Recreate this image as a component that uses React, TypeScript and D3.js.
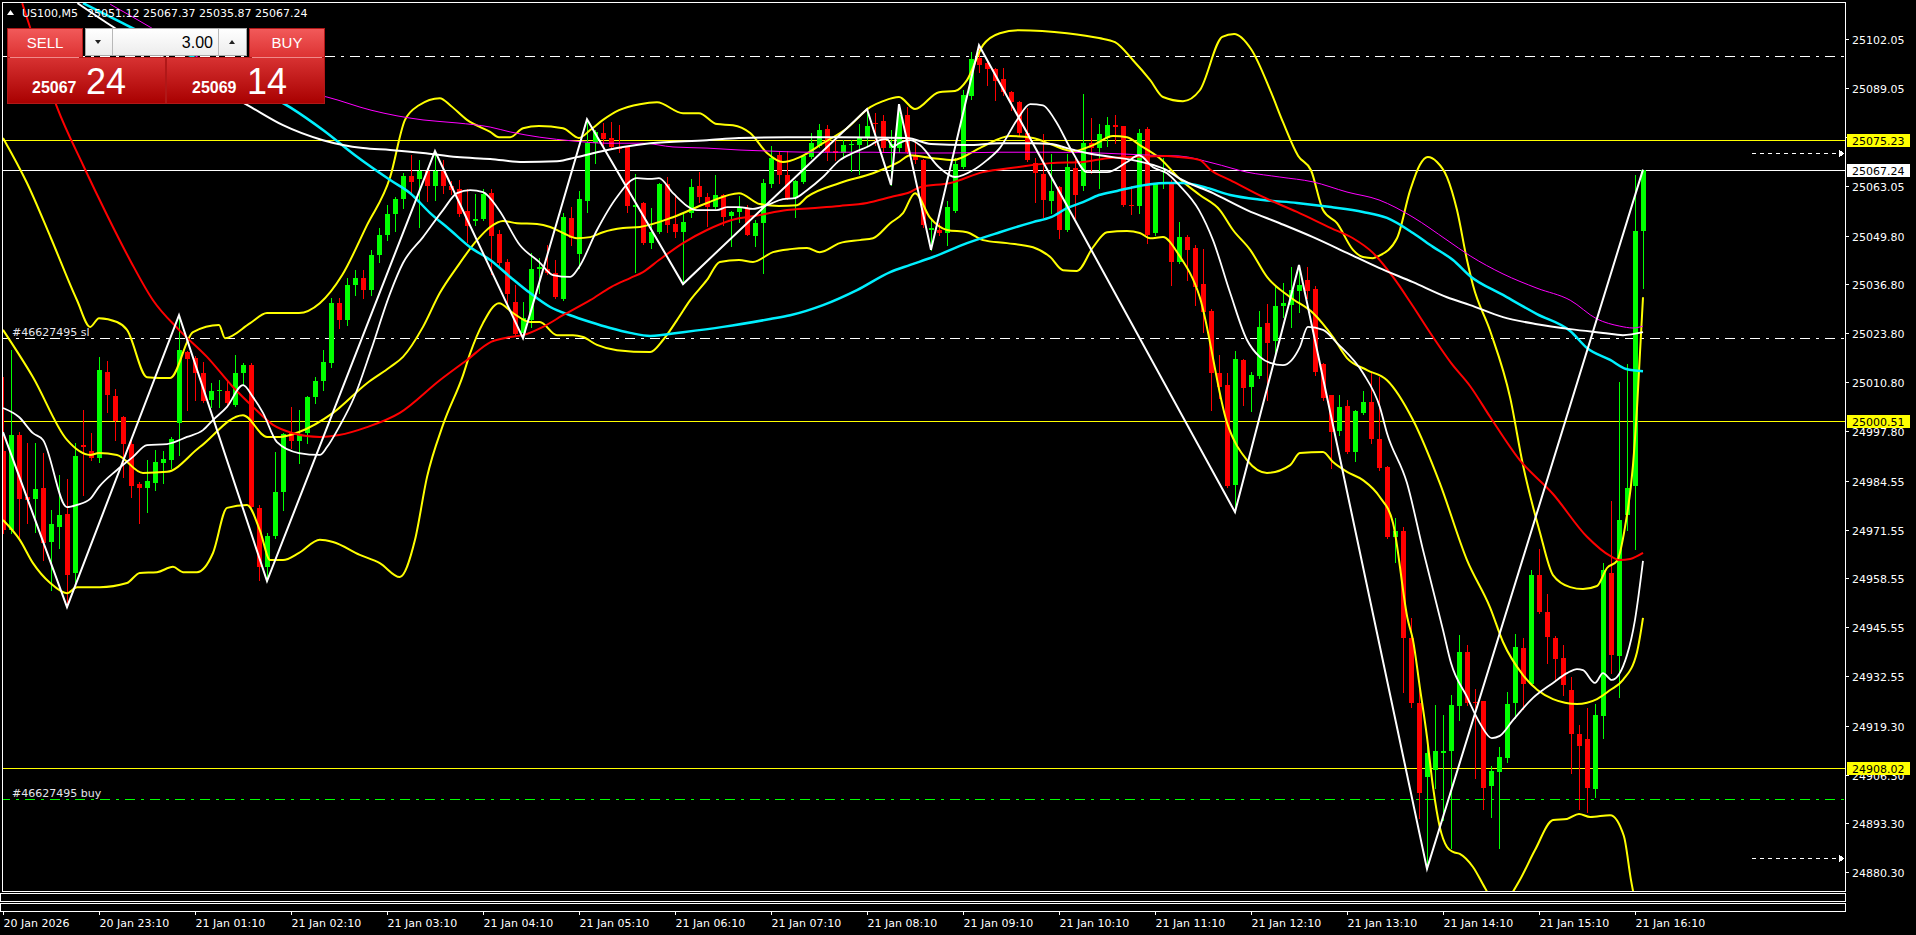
import React from 'react';
import * as d3 from 'd3';

// US100 M5, bars from 20 Jan 22:10 to 21 Jan 16:15, [open, high, low, close]
const ohlc: number[][] = [
  [24992.4, 25012.1, 24970.6, 24971.4], [24971.4, 25019.3, 24970.6, 24996.7], [24996.7, 24997.5, 24968.8, 24979.7],
  [24980.2, 24994.6, 24973.3, 24979.4], [24979.7, 24994.6, 24970.9, 24982.3], [24982.6, 24991.9, 24963.4, 24968.0],
  [24968.2, 24976.7, 24955.4, 24973.0], [24972.2, 24986.1, 24966.6, 24975.4], [24975.7, 24985.0, 24950.9, 24959.4],
  [24960.0, 24994.6, 24956.8, 24991.1], [24994.0, 25003.4, 24980.7, 24993.5], [24992.4, 24997.2, 24990.0, 24990.6],
  [24990.6, 25017.5, 24989.5, 25014.0], [25013.5, 25016.4, 25002.8, 25007.3], [25007.1, 25008.9, 24995.4, 25000.4],
  [25001.5, 25001.8, 24985.5, 24994.3], [24994.3, 24995.4, 24980.2, 24983.1], [24983.7, 24984.2, 24973.3, 24982.6],
  [24982.6, 24990.0, 24976.2, 24984.5], [24983.9, 24992.7, 24982.1, 24989.5], [24989.2, 24992.4, 24983.9, 24990.3],
  [24990.0, 24996.2, 24987.9, 24995.6], [25000.0, 25028.6, 24991.4, 25019.3], [25018.8, 25019.0, 25003.4, 25016.9],
  [25017.2, 25017.7, 25006.0, 25013.2], [25013.2, 25016.1, 25005.5, 25005.7], [25006.0, 25010.5, 25004.2, 25008.4],
  [25008.4, 25011.3, 25004.2, 25008.6], [25008.4, 25011.3, 25004.7, 25005.2], [25004.7, 25018.0, 25004.4, 25013.2],
  [25013.2, 25015.9, 25010.0, 25015.3], [25015.3, 25015.9, 24977.3, 24977.5], [24977.3, 24978.1, 24958.1, 24961.6],
  [24961.6, 24970.6, 24957.8, 24969.8], [24969.8, 24992.2, 24969.3, 24981.5], [24981.5, 24997.2, 24976.7, 24997.0],
  [24997.2, 25004.2, 24993.2, 24995.1], [24995.1, 25003.4, 24989.2, 24996.7], [24997.2, 25007.0, 24994.6, 25006.8],
  [25006.8, 25012.1, 25005.2, 25011.1], [25011.1, 25019.3, 25008.7, 25016.1], [25015.9, 25033.2, 25014.8, 25031.8],
  [25031.8, 25033.2, 25025.2, 25027.3], [25027.3, 25038.5, 25026.0, 25036.6], [25036.6, 25040.6, 25034.0, 25038.5],
  [25038.5, 25040.6, 25033.2, 25035.3], [25035.3, 25046.0, 25034.0, 25044.6], [25044.6, 25051.8, 25042.8, 25049.9],
  [25049.9, 25057.9, 25048.6, 25055.5], [25055.5, 25060.1, 25051.0, 25059.5], [25059.5, 25066.4, 25057.1, 25065.6],
  [25065.6, 25071.2, 25061.1, 25064.1], [25064.9, 25069.9, 25052.1, 25067.0], [25067.0, 25067.5, 25059.0, 25063.0],
  [25063.0, 25072.3, 25059.3, 25067.0], [25067.0, 25069.9, 25061.1, 25063.0], [25063.0, 25064.3, 25060.9, 25061.9],
  [25062.2, 25064.6, 25055.0, 25055.5], [25056.3, 25062.2, 25048.1, 25052.3], [25053.7, 25060.9, 25052.6, 25054.2],
  [25054.2, 25062.2, 25053.9, 25060.9], [25061.1, 25062.2, 25039.6, 25049.7], [25050.2, 25051.3, 25042.0, 25042.5],
  [25042.8, 25043.6, 25031.8, 25034.2], [25032.1, 25036.6, 25023.3, 25023.5], [25023.9, 25032.1, 25022.5, 25027.8],
  [25027.3, 25045.2, 25025.5, 25040.9], [25040.9, 25043.8, 25034.5, 25041.4], [25040.9, 25047.3, 25039.5, 25039.9],
  [25039.8, 25043.3, 25033.2, 25033.4], [25032.9, 25055.8, 25032.6, 25054.7], [25054.5, 25057.4, 25047.3, 25049.1],
  [25045.0, 25061.7, 25041.2, 25059.5], [25059.0, 25080.8, 25056.1, 25074.4], [25074.4, 25077.9, 25069.1, 25077.4],
  [25077.1, 25079.8, 25073.4, 25075.5], [25075.8, 25080.0, 25072.8, 25073.4], [25073.4, 25079.2, 25072.0, 25072.8],
  [25073.4, 25073.6, 25056.1, 25057.7], [25057.4, 25066.2, 25040.1, 25057.9], [25058.5, 25058.7, 25047.6, 25047.8],
  [25047.8, 25057.1, 25046.5, 25050.7], [25050.7, 25063.8, 25050.5, 25063.6], [25063.5, 25065.4, 25050.7, 25052.6],
  [25052.9, 25060.6, 25049.4, 25050.7], [25050.7, 25055.8, 25036.9, 25053.4], [25055.8, 25064.9, 25054.7, 25062.7],
  [25063.0, 25066.7, 25058.7, 25060.1], [25060.1, 25061.1, 25052.3, 25057.4], [25057.4, 25065.9, 25057.1, 25060.6],
  [25060.6, 25060.9, 25052.6, 25054.7], [25055.0, 25056.3, 25047.0, 25056.1], [25056.1, 25060.3, 25053.4, 25057.1],
  [25057.1, 25057.9, 25049.9, 25050.0], [25049.7, 25053.9, 25047.0, 25053.1], [25053.1, 25064.9, 25039.8, 25063.8],
  [25063.5, 25073.6, 25062.7, 25070.4], [25071.2, 25072.3, 25063.8, 25065.9], [25065.9, 25072.3, 25059.6, 25059.8],
  [25059.8, 25064.5, 25054.7, 25064.3], [25064.1, 25071.2, 25063.8, 25071.0], [25070.7, 25077.1, 25070.4, 25074.4],
  [25073.6, 25079.5, 25073.4, 25077.9], [25078.2, 25079.2, 25069.9, 25072.0], [25072.3, 25075.2, 25069.9, 25071.8],
  [25071.8, 25075.2, 25070.4, 25073.9], [25073.8, 25075.2, 25067.0, 25074.1], [25073.9, 25079.5, 25066.2, 25075.8],
  [25076.0, 25083.5, 25073.6, 25079.0], [25079.8, 25082.4, 25073.9, 25079.5], [25080.3, 25081.9, 25072.0, 25073.1],
  [25073.1, 25077.9, 25063.3, 25074.2], [25073.1, 25084.8, 25072.0, 25081.9], [25081.9, 25084.0, 25071.8, 25072.0],
  [25071.2, 25074.4, 25069.1, 25069.9], [25069.9, 25070.1, 25052.1, 25052.6], [25051.3, 25053.9, 25046.0, 25051.8],
  [25051.3, 25053.1, 25049.9, 25050.5], [25050.5, 25059.0, 25047.3, 25057.4], [25056.3, 25070.4, 25056.1, 25068.8],
  [25068.0, 25088.5, 25067.8, 25087.2], [25086.9, 25098.7, 25086.1, 25096.8], [25097.1, 25100.5, 25093.3, 25095.2],
  [25095.7, 25096.0, 25089.9, 25094.1], [25094.1, 25094.3, 25085.9, 25090.9], [25091.5, 25094.4, 25087.2, 25088.0],
  [25088.0, 25088.2, 25083.2, 25085.4], [25085.4, 25085.6, 25076.6, 25077.1], [25077.1, 25083.8, 25069.7, 25069.9],
  [25069.1, 25070.4, 25058.7, 25066.4], [25066.2, 25076.8, 25054.7, 25059.3], [25059.0, 25071.5, 25055.8, 25061.7],
  [25062.7, 25063.0, 25049.1, 25051.3], [25051.3, 25071.5, 25051.0, 25068.0], [25067.8, 25070.4, 25054.5, 25060.6],
  [25063.0, 25087.5, 25061.9, 25074.4], [25074.4, 25081.1, 25066.4, 25073.1], [25073.1, 25079.5, 25062.5, 25076.8],
  [25075.8, 25081.4, 25073.6, 25079.2], [25079.2, 25081.9, 25074.4, 25078.7], [25078.9, 25079.1, 25057.7, 25057.9],
  [25058.0, 25063.0, 25055.5, 25057.7], [25057.7, 25078.2, 25055.8, 25077.1], [25078.2, 25078.7, 25047.8, 25049.9],
  [25050.5, 25063.8, 25049.9, 25063.8], [25063.8, 25070.4, 25062.5, 25064.1], [25064.1, 25064.6, 25036.6, 25042.8],
  [25042.8, 25053.4, 25042.5, 25049.4], [25049.4, 25049.9, 25038.0, 25045.9], [25046.5, 25047.3, 25031.3, 25036.1],
  [25036.9, 25046.2, 25024.1, 25029.4], [25029.7, 25030.2, 25003.4, 25013.2], [25013.2, 25018.0, 25006.6, 25009.5],
  [25010.0, 25013.2, 24982.9, 24983.1], [24983.4, 25019.1, 24976.2, 25016.9], [25016.7, 25016.9, 25004.7, 25009.2],
  [25009.5, 25013.5, 25003.1, 25012.7], [25012.4, 25029.7, 25011.9, 25025.5], [25026.5, 25031.6, 25006.0, 25021.2],
  [25021.7, 25036.6, 25018.5, 25031.0], [25031.0, 25037.2, 25028.1, 25031.8], [25031.3, 25041.4, 25025.5, 25035.3],
  [25035.0, 25042.0, 25029.4, 25036.6], [25038.0, 25041.4, 25033.2, 25035.0], [25035.6, 25036.4, 25012.7, 25013.5],
  [25015.6, 25015.9, 25006.0, 25006.6], [25007.3, 25007.4, 24987.9, 24997.5], [24997.8, 25007.3, 24996.7, 25004.2],
  [25004.4, 25006.0, 24991.8, 24992.2], [24992.2, 25003.4, 24989.8, 25003.1], [25002.6, 25008.4, 25002.3, 25005.5],
  [25005.5, 25013.2, 24994.6, 24995.6], [24995.6, 25012.1, 24987.5, 24987.9], [24988.2, 24988.4, 24969.3, 24969.5],
  [24969.5, 24974.6, 24962.9, 24971.1], [24971.1, 24972.2, 24928.3, 24942.7], [24942.7, 24948.0, 24924.3, 24925.4],
  [24925.4, 24930.2, 24894.8, 24901.4], [24905.6, 24914.2, 24881.2, 24912.1], [24907.5, 24924.8, 24902.7, 24912.6],
  [24912.1, 24922.2, 24894.2, 24912.6], [24912.6, 24927.5, 24886.8, 24924.8], [24924.6, 24943.5, 24920.8, 24938.9],
  [24938.9, 24940.8, 24924.8, 24925.4], [24925.6, 24929.1, 24905.4, 24925.4], [24925.9, 24926.0, 24897.2, 24902.7],
  [24903.3, 24908.6, 24895.0, 24907.3], [24907.0, 24913.6, 24886.8, 24911.0], [24910.7, 24928.3, 24909.7, 24925.1],
  [24925.4, 24943.7, 24921.4, 24940.3], [24940.0, 24942.7, 24923.8, 24930.4], [24930.4, 24960.8, 24930.2, 24959.4],
  [24959.4, 24966.4, 24949.3, 24949.6], [24949.6, 24954.4, 24936.0, 24942.9], [24942.7, 24943.2, 24931.5, 24937.1],
  [24937.3, 24940.8, 24927.5, 24930.2], [24928.8, 24932.3, 24906.7, 24917.1], [24917.1, 24919.5, 24897.2, 24913.9],
  [24915.8, 24924.0, 24896.3, 24902.7], [24902.5, 24925.1, 24900.3, 24922.2], [24921.9, 24962.6, 24916.0, 24960.8],
  [24960.0, 24979.1, 24933.4, 24938.1], [24937.9, 25010.8, 24927.0, 24974.1], [24975.4, 25015.6, 24971.4, 24982.6],
  [24983.1, 25065.9, 24966.4, 25051.1], [25051.12, 25067.37, 25035.87, 25067.24],
];

const timeLabels = [
  '20 Jan 2026', '20 Jan 23:10', '21 Jan 01:10', '21 Jan 02:10', '21 Jan 03:10', '21 Jan 04:10',
  '21 Jan 05:10', '21 Jan 06:10', '21 Jan 07:10', '21 Jan 08:10', '21 Jan 09:10', '21 Jan 10:10',
  '21 Jan 11:10', '21 Jan 12:10', '21 Jan 13:10', '21 Jan 14:10', '21 Jan 15:10', '21 Jan 16:10',
];
const priceTicks = [
  '25102.05', '25089.05', '25076.05', '25063.05', '25049.80', '25036.80', '25023.80', '25010.80', '24997.80',
  '24984.55', '24971.55', '24958.55', '24945.55', '24932.55', '24919.30', '24906.30', '24893.30', '24880.30',
];

// indicator lines, [bar index, price]
const redMA: [number, number][] = [
  [2.4, 25111.7], [4.5, 25097.9], [6.75, 25084.0], [10, 25068.6], [13, 25055.3], [16, 25042.8], [18.75, 25032.6],
  [22, 25024.7], [25.5, 25017.5], [28.75, 25009.5], [31.25, 25004.2], [33.75, 24999.4], [36.25, 24997.2],
  [39.6, 24996.2], [42, 24996.7], [45.5, 24998.8], [49.6, 25002.6], [54.6, 25011.3], [58, 25016.7], [61, 25021.5],
  [63.4, 25022.8], [65, 25023.3], [67.5, 25025.5], [70, 25028.6], [73.4, 25032.6], [76, 25036.1], [78.4, 25038.5],
  [80, 25040.1], [82, 25043.3], [85, 25047.8], [88, 25051.3], [91, 25053.9], [94.6, 25055.3], [98, 25056.6],
  [101, 25057.1], [104.6, 25057.7], [108, 25058.5], [111, 25060.1], [113.4, 25061.4], [114.6, 25062.7],
  [118.4, 25063.8], [122.5, 25066.7], [126.75, 25068.0], [130.9, 25069.1], [135, 25069.4], [138, 25070.4],
  [141, 25070.7], [145.5, 25071.0], [147, 25070.7], [149.6, 25069.9], [151, 25067.2], [153.4, 25064.6],
  [157.5, 25060.1], [161.75, 25056.1], [166, 25051.8], [168.75, 25049.1], [171.25, 25045.2], [173.75, 25038.8],
  [176, 25031.8], [178.75, 25022.8], [181, 25015.9], [183.4, 25009.7], [185.9, 25001.5], [189.6, 24990.0],
  [193.75, 24981.0], [198, 24969.6], [200.9, 24964.5], [202.1, 24963.4], [203.4, 24963.7], [205, 24965.3],
];
const cyanMA: [number, number][] = [
  [10, 25111.7], [15.5, 25105.8], [22, 25099.2], [29, 25091.7], [36, 25083.8], [40, 25077.9], [44, 25071.2],
  [48.4, 25064.6], [50.9, 25061.1], [53.4, 25055.8], [55.9, 25051.3], [58.4, 25046.7], [60.9, 25043.3],
  [63.4, 25038.8], [65.9, 25034.5], [68.4, 25030.8], [70.9, 25028.6], [73.4, 25026.8], [75.9, 25025.2],
  [78.4, 25023.9], [80.9, 25023.1], [85, 25024.1], [90, 25025.5], [95.9, 25027.6], [98.4, 25028.6],
  [102.5, 25031.3], [106.75, 25035.3], [110.9, 25040.1], [113.4, 25042.0], [116.25, 25044.1], [120.5, 25047.8],
  [124.6, 25050.7], [128.75, 25053.4], [131, 25054.7], [133, 25057.1], [135, 25058.7], [137, 25060.6],
  [139.25, 25061.7], [141.25, 25062.7], [143.4, 25063.5], [145.5, 25063.8], [147.5, 25063.8], [150.5, 25062.5],
  [153.4, 25060.6], [157.5, 25059.3], [161.75, 25058.5], [166, 25057.4], [170, 25056.1], [173, 25054.5],
  [176.25, 25050.5], [178.75, 25046.8], [181.25, 25043.3], [183.4, 25039.0], [187.5, 25034.0], [191.75, 25028.9],
  [195.9, 25024.4], [198, 25019.9], [200.9, 25016.7], [202.9, 25014.3], [205, 25013.7],
];
const magentaMA: [number, number][] = [
  [13.4, 25111.4], [18.4, 25105.3], [25, 25096.5], [32, 25089.9], [40.5, 25086.7], [46, 25083.2], [52.5, 25080.6],
  [56.75, 25079.8], [60.9, 25078.7], [63.4, 25077.4], [67.1, 25076.0], [71.25, 25075.0], [75.5, 25074.4],
  [80, 25074.4], [83.75, 25073.4], [88, 25073.1], [92, 25072.6], [96, 25072.3], [100.5, 25072.0], [108.75, 25072.0],
  [113.4, 25071.8], [118.4, 25071.8], [124.6, 25072.0], [130.9, 25072.0], [137, 25071.8], [143.4, 25071.2],
  [147, 25071.0], [151.25, 25069.1], [155.5, 25066.7], [159.6, 25065.4], [163.75, 25064.1], [168, 25061.4],
  [172, 25059.3], [176.25, 25054.7], [180.5, 25048.6], [183.4, 25044.4], [187.5, 25039.6], [191.75, 25035.8],
  [195.9, 25032.6], [199.25, 25027.6], [202.1, 25025.7], [203.75, 25025.2], [205, 25025.7],
];
const whiteMA: [number, number][] = [
  [9.3, 25111.7], [13, 25106.4], [31, 25084.0], [35, 25079.2], [40, 25075.2], [45, 25073.1], [48.4, 25072.6],
  [52.5, 25071.8], [56.75, 25070.7], [60.9, 25070.2], [65, 25069.4], [69.25, 25069.6], [71.75, 25070.7],
  [74.25, 25072.0], [77.5, 25073.4], [80.9, 25074.4], [88, 25075.2], [92, 25075.8], [98, 25076.0], [104.6, 25076.0],
  [113, 25075.8], [116, 25074.2], [120.5, 25073.9], [124.6, 25074.4], [128.75, 25074.4], [131, 25074.2],
  [133, 25073.1], [135.5, 25071.8], [138.75, 25070.7], [141.25, 25069.9], [143.75, 25068.6], [145.5, 25067.2],
  [147, 25065.1], [151.25, 25061.1], [155.5, 25056.6], [159.6, 25053.1], [163.75, 25049.4], [168, 25045.2],
  [172, 25041.2], [176.25, 25037.4], [180.5, 25033.4], [183.4, 25031.3], [187.5, 25028.1], [191.75, 25026.2],
  [195.9, 25024.9], [200, 25023.9], [202.5, 25023.3], [205, 25024.1],
];
const fastMA: [number, number][] = [
  [0, 25003.9], [2, 25001.5], [3.75, 24997.2], [5, 24995.4], [8, 24977.5], [9.25, 24978.1], [10.9, 24979.7],
  [12, 24982.9], [14.25, 24987.4], [16.25, 24990.9], [18, 24994.0], [20.5, 24994.3], [23, 24996.2], [25, 24998.0],
  [26.25, 25000.7], [28, 25004.2], [30, 25010.0], [31.25, 25006.8], [32.5, 25002.6], [34.25, 24994.8],
  [37, 24991.9], [39.6, 24991.4], [40.5, 24993.5], [42, 24998.8], [44, 25007.3], [46, 25019.3], [48.4, 25034.5],
  [50, 25042.5], [52.5, 25049.4], [55, 25056.6], [56.75, 25061.1], [58.4, 25061.9], [60, 25061.4], [62, 25056.6],
  [64.6, 25047.3], [67, 25042.8], [68.75, 25039.3], [70.9, 25038.8], [72, 25041.4], [74.25, 25051.3],
  [76.75, 25060.1], [79.25, 25065.1], [80.9, 25064.9], [82, 25065.1], [83.75, 25061.1], [86.75, 25056.6],
  [89.25, 25056.6], [90.5, 25057.4], [92, 25057.4], [93.75, 25056.9], [95.5, 25057.9], [97.5, 25059.5],
  [99, 25059.8], [100.5, 25061.9], [102.5, 25065.4], [104.6, 25069.9], [106.25, 25071.8], [108, 25073.4],
  [109.6, 25075.2], [110.5, 25075.5], [111.25, 25073.4], [112, 25074.4], [113.4, 25075.2], [114.6, 25073.9],
  [117, 25068.0], [119, 25065.4], [121.25, 25067.2], [123, 25069.9], [124.6, 25073.1], [126.75, 25080.6],
  [128.4, 25084.8], [130, 25084.5], [131.5, 25080.6], [133.75, 25071.8], [135.5, 25066.7], [138, 25066.7],
  [140.5, 25069.4], [142, 25071.2], [143.75, 25068.0], [145.5, 25066.4], [147, 25063.3], [149.5, 25056.6],
  [151.25, 25048.6], [153.4, 25034.5], [155.5, 25022.0], [157.1, 25017.5], [158.4, 25015.9], [160, 25015.3],
  [162.1, 25020.1], [163.1, 25025.5], [165, 25024.7], [166.75, 25021.2], [170, 25013.2], [172.1, 25004.2],
  [173, 24997.2], [175.5, 24983.9], [177.5, 24966.1], [180, 24944.8], [181, 24936.0], [183, 24927.0],
  [184.6, 24920.0], [186.1, 24916.0], [187.1, 24916.6], [188.75, 24920.8], [191.25, 24926.7], [193.75, 24930.7],
  [195.5, 24933.3], [196.75, 24934.4], [197.5, 24934.1], [199, 24930.7], [200, 24933.3], [201.1, 24931.5],
  [203, 24938.1], [204, 24947.5], [205, 24963.2],
];
const zigzag: [number, number][] = [
  [0, 24997.5], [8, 24950.9], [22, 25028.6], [33, 24957.8], [54, 25072.3], [65, 25022.5], [73, 25080.8],
  [85, 25036.9], [108, 25083.5], [111, 25063.3], [112, 25084.8], [116, 25046.0], [122, 25100.5], [154, 24976.2],
  [162, 25042.0], [178, 24881.2], [205, 25067.37],
];
const bbUpper: [number, number][] = [
  [0, 25075.8], [3, 25063.8], [6, 25049.1], [9.25, 25032.6], [10.9, 25025.5], [12, 25027.8], [14.25, 25026.8],
  [15.5, 25024.7], [18, 25012.1], [19.6, 25011.9], [20.9, 25011.9], [23.75, 25024.1], [27, 25026.0],
  [27.75, 25022.5], [30.9, 25026.5], [33, 25029.2], [37, 25029.2], [39.6, 25031.8], [42.4, 25039.3],
  [45.5, 25052.6], [48.4, 25065.4], [50.25, 25080.6], [52, 25084.5], [54.6, 25086.4], [56, 25084.3],
  [58, 25080.6], [60.9, 25077.4], [62, 25076.0], [63.4, 25076.0], [65, 25078.4], [67, 25079.0], [70, 25078.4],
  [72, 25075.8], [73.4, 25077.9], [75, 25080.6], [77, 25083.2], [79.6, 25084.8], [81.75, 25085.3], [85, 25082.4],
  [87, 25082.4], [89.25, 25079.5], [91.25, 25079.2], [93.4, 25077.1], [95.5, 25071.8], [97.5, 25069.4],
  [99.6, 25070.7], [102.5, 25074.4], [105.5, 25078.4], [108.4, 25084.0], [110, 25085.6], [112, 25086.7],
  [114, 25083.5], [117, 25088.0], [119, 25088.3], [120.5, 25091.2], [122.5, 25100.5], [124.6, 25103.7],
  [127, 25104.5], [133, 25103.7], [137, 25102.4], [139, 25101.3], [141.25, 25096.5], [143.4, 25091.2],
  [145, 25086.7], [147.5, 25085.6], [149.6, 25088.5], [152.4, 25102.7], [153.9, 25103.5], [156, 25099.5],
  [158.5, 25088.0], [160, 25080.0], [161.9, 25071.0], [163.5, 25067.2], [165, 25056.6], [166.75, 25053.1],
  [168.75, 25046.0], [170, 25044.1], [171.25, 25043.8], [172, 25044.4], [174.25, 25049.1], [175.9, 25061.9],
  [177.1, 25068.6], [178.1, 25070.7], [179.25, 25069.4], [180.5, 25065.4], [181.75, 25056.6], [183, 25043.3],
  [183.75, 25036.6], [185.9, 25024.4], [188.4, 25006.6], [190, 24988.7], [192.1, 24970.9], [193.75, 24959.4],
  [195.9, 24956.2], [197.5, 24955.7], [199.25, 24956.5], [200.5, 24961.3], [201.75, 24963.2], [202.75, 24972.2],
  [203.75, 24988.7], [204.25, 25003.9], [205, 25033.4],
];
const bbMiddle: [number, number][] = [
  [0, 25024.7], [3.75, 25012.1], [8, 24995.4], [10.9, 24991.4], [12, 24991.9], [14.25, 24991.4], [17.5, 24986.6],
  [20.5, 24986.9], [24.6, 24993.5], [30, 25002.0], [33, 24996.2], [34.6, 24996.2], [37, 24997.5], [41.25, 25002.6],
  [45.5, 25010.5], [48.4, 25014.8], [50, 25017.5], [52.5, 25025.5], [54.6, 25034.5], [56.75, 25041.4],
  [59.25, 25048.6], [60.9, 25052.1], [62.5, 25053.7], [64.25, 25053.1], [66.75, 25052.9], [68.4, 25052.1],
  [70, 25050.5], [71.75, 25049.1], [73.4, 25049.4], [75, 25050.7], [77.5, 25051.8], [79.6, 25052.1],
  [83.75, 25054.7], [88, 25058.5], [92, 25061.1], [94.6, 25058.2], [97, 25057.7], [99.25, 25057.9],
  [100.5, 25060.1], [104.6, 25063.8], [108.75, 25066.4], [112, 25069.4], [113.4, 25071.2], [116.25, 25070.4],
  [118.75, 25069.9], [122.1, 25073.1], [125.9, 25076.3], [128.75, 25075.8], [130.9, 25074.2], [133.75, 25072.3],
  [136.25, 25073.9], [138.75, 25076.3], [140.5, 25076.0], [142.1, 25073.9], [144.6, 25070.4], [147, 25065.1],
  [149.6, 25060.6], [152.1, 25056.6], [153.75, 25051.3], [155.9, 25046.0], [158, 25038.8], [160.9, 25033.4],
  [163.75, 25029.2], [166.25, 25022.8], [168, 25017.2], [170.5, 25014.0], [173, 25011.3], [176.25, 25000.7],
  [179.6, 24983.9], [183, 24963.4], [185.9, 24950.7], [187.5, 24941.6], [190, 24932.8], [193.75, 24926.4],
  [196.75, 24925.1], [199.25, 24926.4], [200.9, 24928.8], [202.5, 24931.5], [204.25, 24938.9], [205, 24948.0],
];
const bbLower: [number, number][] = [
  [0, 24974.1], [2.1, 24968.8], [3.75, 24962.6], [5.9, 24957.3], [8, 24954.6], [9.25, 24956.2], [12.1, 24956.2],
  [15.5, 24957.3], [17.1, 24960.0], [19.25, 24960.2], [21.25, 24961.6], [22.5, 24960.2], [24.25, 24960.2],
  [26.25, 24965.3], [28, 24977.3], [30.5, 24978.1], [32.1, 24971.4], [33.4, 24963.4], [35, 24963.4],
  [37, 24965.3], [39.6, 24968.8], [41.25, 24968.2], [44.6, 24964.8], [47.1, 24962.6], [49.6, 24958.9],
  [51.5, 24968.8], [53, 24985.5], [55, 24999.4], [57.5, 25012.6], [58.4, 25018.5], [60, 25026.5], [62, 25031.8],
  [63.75, 25029.2], [65.9, 25026.8], [67.1, 25026.8], [69.25, 25023.3], [71.25, 25023.3], [72.5, 25022.8],
  [74.25, 25020.7], [76.75, 25019.3], [80.9, 25018.8], [82.5, 25022.0], [84.25, 25027.3], [85.9, 25032.6],
  [88, 25038.0], [89.6, 25042.8], [92, 25043.3], [93.75, 25042.8], [96.25, 25045.4], [98.4, 25046.2],
  [100.5, 25046.5], [102.1, 25045.4], [104.6, 25047.8], [107.1, 25048.6], [108.75, 25049.1], [110.9, 25053.1],
  [112.5, 25055.8], [114, 25061.1], [115.9, 25054.5], [118, 25051.3], [120.5, 25050.7], [122.5, 25048.6],
  [125.5, 25047.8], [128.75, 25046.7], [130.9, 25044.1], [132.5, 25040.6], [134.25, 25040.4], [136.25, 25046.7],
  [138, 25050.7], [140.5, 25051.0], [142.1, 25050.5], [143.4, 25049.1], [145, 25049.4], [147, 25044.6],
  [149.6, 25033.4], [153, 25000.0], [155.5, 24990.0], [158, 24986.6], [160.9, 24988.7], [162.1, 24991.9],
  [165, 24992.2], [166.25, 24989.5], [168, 24986.9], [170, 24984.7], [172.1, 24980.2], [173.75, 24973.3],
  [175.6, 24947.5], [176.25, 24942.1], [177.1, 24929.6], [178, 24916.3], [178.75, 24903.0], [179.6, 24892.3],
  [180.5, 24887.0], [181.25, 24885.7], [182.1, 24885.2], [183.75, 24881.7], [185.25, 24876.1], [187, 24870.3],
  [188.5, 24874.3], [189.6, 24878.2], [191.5, 24886.2], [193.75, 24894.2], [195.5, 24894.5], [197, 24895.8],
  [198.4, 24895.0], [200.9, 24895.5], [202.6, 24890.0], [203.5, 24878.2], [204.2, 24870.3], [205, 24859.6],
];

// horizontal levels
const yellowLevels = [25075.23, 25000.51, 24908.02];
const bidPrice = 25067.24;
const tpLevel = 25097.6;
const slLevel = 25022.5;
const buyLevel = 24899.7;
const arrowLevels = [25071.8, 24884.1];
const header = { symbol: 'US100,M5', quote: ['25051.12', '25067.37', '25035.87', '25067.24'] };
const panel = { lot: '3.00', sellBig: '25067', sellSmall: '24', buyBig: '25069', buySmall: '14' };

const FONT = '"DejaVu Sans", Verdana, sans-serif';
const NUM = '"Liberation Sans", Arial, sans-serif';
const RIGHT = 1845;
const BOTTOM = 891;

export default function App() {
  const x = d3.scaleLinear().domain([0, 205]).range([3, 1643]);
  const y = d3.scaleLinear().domain([24875.3, 25112.0]).range([BOTTOM, 2]);
  const smooth = d3.line<[number, number]>().x(d => x(d[0])).y(d => y(d[1])).curve(d3.curveMonotoneX);
  const straight = d3.line<[number, number]>().x(d => x(d[0])).y(d => y(d[1]));
  const ry = (p: number) => Math.round(y(p)) + 0.5;

  const lines = [
    { d: bbUpper, c: '#ffff00', w: 2 },
    { d: bbMiddle, c: '#ffff00', w: 2 },
    { d: bbLower, c: '#ffff00', w: 2 },
    { d: magentaMA, c: '#ff00ff', w: 1 },
    { d: cyanMA, c: '#00f0ff', w: 2.5 },
    { d: redMA, c: '#ff0000', w: 2 },
    { d: whiteMA, c: '#ffffff', w: 2 },
    { d: fastMA, c: '#ffffff', w: 1.8 },
  ];

  const highlighted = [
    ...yellowLevels.map(p => ({ p, bg: '#ffff00' })),
    { p: bidPrice, bg: '#ffffff' },
  ];

  return (
    <div style={{ position: 'fixed', left: 0, top: 0, width: 1916, height: 935, background: '#000' }}>
      <svg width={1916} height={935} style={{ display: 'block' }}>
        <defs>
          <clipPath id="plot">
            <rect x={2} y={2} width={RIGHT - 2} height={BOTTOM - 2} />
          </clipPath>
          <linearGradient id="tab" x1="0" y1="0" x2="0" y2="1">
            <stop offset="0" stopColor="#f25a5a" />
            <stop offset="1" stopColor="#dc3232" />
          </linearGradient>
          <linearGradient id="price" x1="0" y1="0" x2="0" y2="1">
            <stop offset="0" stopColor="#d83232" />
            <stop offset="1" stopColor="#a80000" />
          </linearGradient>
          <linearGradient id="lotbg" x1="0" y1="0" x2="0" y2="1">
            <stop offset="0" stopColor="#ffffff" />
            <stop offset="1" stopColor="#ececec" />
          </linearGradient>
        </defs>
        <rect x={0} y={0} width={1916} height={935} fill="#000" />

        <g clipPath="url(#plot)">
          {/* level lines */}
          <g shapeRendering="crispEdges">
            {yellowLevels.map(p => (
              <line key={p} x1={0} x2={RIGHT} y1={ry(p)} y2={ry(p)} stroke="#ffff00" strokeWidth={1} />
            ))}
            <line x1={0} x2={RIGHT} y1={ry(bidPrice)} y2={ry(bidPrice)} stroke="#ffffff" strokeWidth={1} />
            <line x1={0} x2={RIGHT} y1={ry(tpLevel)} y2={ry(tpLevel)} stroke="#ffffff" strokeDasharray="10,6,3,6" />
            <line x1={0} x2={RIGHT} y1={ry(slLevel)} y2={ry(slLevel)} stroke="#ffffff" strokeDasharray="10,6,3,6" />
            <line x1={0} x2={RIGHT} y1={ry(buyLevel)} y2={ry(buyLevel)} stroke="#00ff00" strokeDasharray="10,6,3,6" />
            {arrowLevels.map(p => (
              <g key={p}>
                <line x1={1752} x2={1838} y1={ry(p)} y2={ry(p)} stroke="#ffffff" strokeDasharray="4,4" />
                <path d={`M1839,${ry(p) - 4}L1844,${ry(p)}L1839,${ry(p) + 4}Z`} fill="#ffffff" />
              </g>
            ))}
          </g>

          {/* candles */}
          <g shapeRendering="crispEdges">
            {ohlc.map(([o, h, l, c], i) => {
              const cx = Math.round(x(i));
              const col = c >= o ? '#00ff00' : '#ff0000';
              const top = Math.round(y(Math.max(o, c)));
              const bot = Math.round(y(Math.min(o, c)));
              return (
                <g key={i}>
                  <line x1={cx + 0.5} x2={cx + 0.5} y1={Math.round(y(h))} y2={Math.round(y(l)) + 1} stroke={col} />
                  <rect x={cx - 2} y={top} width={5} height={Math.max(1, bot - top)} fill={col} />
                </g>
              );
            })}
          </g>

          {/* indicators */}
          {lines.map((s, i) => (
            <path key={i} d={smooth(s.d) || ''} fill="none" stroke={s.c} strokeWidth={s.w} strokeLinejoin="round" />
          ))}
          <path d={straight(zigzag) || ''} fill="none" stroke="#ffffff" strokeWidth={2} strokeLinejoin="miter" />
        </g>

        {/* trade labels */}
        <text x={12} y={ry(slLevel) - 3} fontFamily={FONT} fontSize={11} fill="#e4e4ec">#46627495 sl</text>
        <text x={12} y={ry(buyLevel) - 3} fontFamily={FONT} fontSize={11} fill="#e4e4ec">#46627495 buy</text>

        {/* frame */}
        <g fill="none" stroke="#ffffff" strokeWidth={1} shapeRendering="crispEdges">
          <rect x={2.5} y={2.5} width={RIGHT - 2} height={BOTTOM - 2} />
          <rect x={0.5} y={893.5} width={RIGHT} height={8} />
          <rect x={0.5} y={903.5} width={RIGHT} height={8} />
        </g>

        {/* price axis */}
        <g fontFamily={FONT} fontSize={11} fill="#ffffff">
          {priceTicks.map(t => {
            const ty = ry(+t);
            return (
              <g key={t}>
                <line x1={RIGHT} x2={RIGHT + 4} y1={ty} y2={ty} stroke="#ffffff" shapeRendering="crispEdges" />
                <text x={1852} y={ty + 4}>{t}</text>
              </g>
            );
          })}
          {highlighted.map(({ p, bg }) => {
            const ty = ry(p);
            return (
              <g key={p}>
                <rect x={1847} y={ty - 6.5} width={63} height={13} fill={bg} />
                <text x={1852} y={ty + 4} fill="#000">{p.toFixed(2)}</text>
              </g>
            );
          })}
        </g>

        {/* time axis */}
        <g fontFamily={FONT} fontSize={11} fill="#ffffff">
          {timeLabels.map((t, k) => {
            const tx = Math.round(x(k * 12)) + 0.5;
            return (
              <g key={t}>
                <line x1={tx} x2={tx} y1={911} y2={915} stroke="#ffffff" shapeRendering="crispEdges" />
                <text x={tx} y={927}>{t}</text>
              </g>
            );
          })}
        </g>

        {/* header */}
        <path d="M7,15L14,15L10.5,10Z" fill="#ffffff" />
        <text x={22} y={16.5} fontFamily={FONT} fontSize={11} fill="#ffffff">{header.symbol}</text>
        <text x={87} y={16.5} fontFamily={FONT} fontSize={11} fill="#ffffff">{header.quote.join(' ')}</text>

        {/* one click trading panel */}
        <g>
          <rect x={7.5} y={28.5} width={75} height={29} fill="url(#tab)" stroke="#b01818" />
          <rect x={7.5} y={57.5} width={158} height={46} fill="url(#price)" stroke="#b01818" />
          <line x1={10} x2={79} y1={57.5} y2={57.5} stroke="#f08a8a" />
          <text x={45} y={48} textAnchor="middle" fontFamily={NUM} fontSize={15} fill="#ffffff">SELL</text>
          <text x={32} y={93} fontFamily={NUM} fontWeight="bold" fontSize={16} fill="#ffffff">{panel.sellBig}</text>
          <text x={86} y={94} fontFamily={NUM} fontSize={36} fill="#ffffff">{panel.sellSmall}</text>

          <rect x={249.5} y={28.5} width={75} height={29} fill="url(#tab)" stroke="#b01818" />
          <rect x={166.5} y={57.5} width={158} height={46} fill="url(#price)" stroke="#b01818" />
          <line x1={252} x2={322} y1={57.5} y2={57.5} stroke="#f08a8a" />
          <text x={287} y={48} textAnchor="middle" fontFamily={NUM} fontSize={15} fill="#ffffff">BUY</text>
          <text x={192} y={93} fontFamily={NUM} fontWeight="bold" fontSize={16} fill="#ffffff">{panel.buyBig}</text>
          <text x={247} y={94} fontFamily={NUM} fontSize={36} fill="#ffffff">{panel.buySmall}</text>

          <rect x={85.5} y={28.5} width={161} height={27} fill="url(#lotbg)" stroke="#a8a8a8" />
          <line x1={112.5} x2={112.5} y1={29} y2={55} stroke="#b8b8b8" />
          <line x1={218.5} x2={218.5} y1={29} y2={55} stroke="#b8b8b8" />
          <path d="M95,40L101,40L98,44Z" fill="#202020" />
          <path d="M229,44L235,44L232,40Z" fill="#202020" />
          <text x={213} y={48} textAnchor="end" fontFamily={NUM} fontSize={16} fill="#000">{panel.lot}</text>
        </g>
      </svg>
    </div>
  );
}
